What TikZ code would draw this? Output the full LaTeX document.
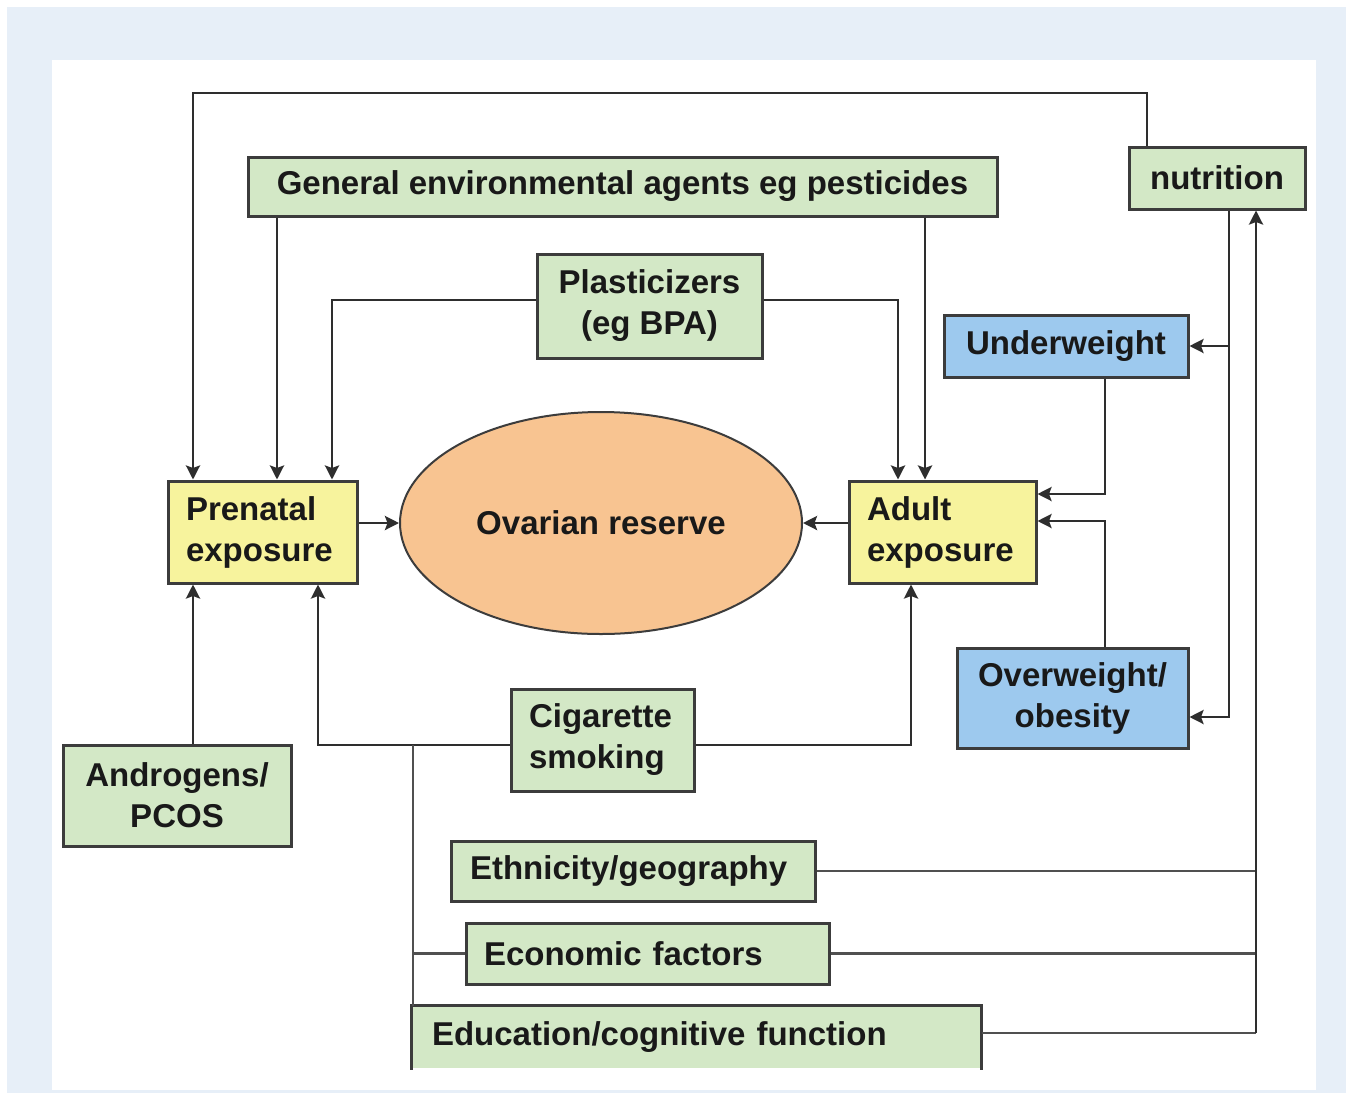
\documentclass[tikz,border=0pt]{standalone}
\usepackage{fontspec}
\setmainfont{Liberation Sans}
\usetikzlibrary{arrows.meta,shapes.geometric}
\definecolor{bgblue}{HTML}{E7EFF8}
\definecolor{boxgreen}{HTML}{D3E8C6}
\definecolor{boxyellow}{HTML}{F7F39D}
\definecolor{boxblue}{HTML}{9DC9EE}
\definecolor{ovaorange}{HTML}{F8C491}
\definecolor{edgegray}{HTML}{3C3C3C}
\definecolor{linegray}{HTML}{2E2E2E}
\definecolor{thingray}{HTML}{505050}
\tikzset{
  box/.style={draw=edgegray, line width=3pt, inner xsep=0pt, inner ysep=0pt,
    font=\fontsize{33}{41}\selectfont\bfseries, text=black!90, align=center},
  greenbox/.style={box, fill=boxgreen},
  yellowbox/.style={box, fill=boxyellow},
  bluebox/.style={box, fill=boxblue},
  conn/.style={draw=linegray, line width=2.7pt},
  thin/.style={draw=thingray, line width=2.3pt},
  arr/.style={conn, -{Stealth[length=14pt,width=14pt,inset=2.5pt]}},
}
\begin{document}
\begin{tikzpicture}[x=1pt,y=-1pt]
\useasboundingbox (0,0) rectangle (1346,1093);
\fill[white] (0,0) rectangle (1346,1093);
\fill[bgblue] (7,7) rectangle (1346,1093);
\fill[white] (52,60) rectangle (1316,1090);

% column / row helper coordinates
\coordinate (c193) at (193,0);
\coordinate (c277) at (277,0);
\coordinate (c318) at (318,0);
\coordinate (c332) at (332,0);
\coordinate (c413) at (413,0);
\coordinate (c898) at (898,0);
\coordinate (c911) at (911,0);
\coordinate (c925) at (925,0);
\coordinate (c1105) at (1105,0);
\coordinate (c1147) at (1147,0);
\coordinate (c1229) at (1229,0);
\coordinate (c1256) at (1256,0);
\coordinate (r93) at (0,93);
\coordinate (r300) at (0,300);
\coordinate (r494) at (0,494);
\coordinate (r521) at (0,521);
\coordinate (r717) at (0,717);
\coordinate (r745) at (0,745);
\coordinate (r1033) at (0,1033);

% nodes
\node[greenbox, minimum width=749pt, minimum height=59pt] (gen) at (622.5,186.5) {General environmental agents eg pesticides};
\node[greenbox, minimum width=176pt, minimum height=62pt] (nut) at (1217,178) {nutrition};
\node[greenbox, minimum width=225pt, minimum height=104pt] (pla) at (649.5,306) {Plasticizers\\(eg BPA)};
\node[bluebox, minimum width=244pt, minimum height=62pt] (und) at (1066,346) {Underweight};
\node[yellowbox, minimum width=189pt, minimum height=102pt, text width=153pt, inner xsep=18pt, align=left] (pre) at (262.5,532) {Prenatal\\exposure};
\node[ellipse, draw=edgegray, line width=2pt, fill=ovaorange, minimum width=402pt, minimum height=222pt, inner sep=0pt,
  font=\fontsize{33}{41}\selectfont\bfseries, text=black!90] (ova) at (601,523) {Ovarian reserve};
\node[yellowbox, minimum width=187pt, minimum height=102pt, text width=151pt, inner xsep=18pt, align=left] (adu) at (942.5,532) {Adult\\exposure};
\node[bluebox, minimum width=231pt, minimum height=100pt] (ove) at (1072.5,698) {Overweight/\\obesity};
\node[greenbox, minimum width=183pt, minimum height=102pt, text width=147pt, inner xsep=18pt, align=left] (cig) at (602.5,740) {Cigarette\\smoking};
\node[greenbox, minimum width=228pt, minimum height=101pt] (and) at (177,795.5) {Androgens/\\PCOS};
\node[greenbox, minimum width=364pt, minimum height=60pt, text width=326pt, inner xsep=19pt, align=left] (eth) at (633,871) {Ethnicity/geography};
\node[greenbox, minimum width=363pt, minimum height=61pt, text width=327pt, inner xsep=18pt, align=left] (eco) at (647.5,953.5) {Economic factors};
\node[greenbox, draw=none, minimum width=567pt, minimum height=61pt, text width=529pt, inner xsep=19pt, align=left] (edu) at (696.5,1037.5) {Education/cognitive function};
\draw[edgegray, line width=3pt] (edu.south west) -- (edu.north west) -- (edu.north east) -- (edu.south east);

% connectors
\draw[arr] (c1147 |- nut.north) -- (c1147 |- r93) -- (c193 |- r93) -- (c193 |- pre.north);
\draw[arr] (c277 |- gen.south) -- (c277 |- pre.north);
\draw[arr] (c925 |- gen.south) -- (c925 |- adu.north);
\draw[arr] (pla.west |- r300) -- (c332 |- r300) -- (c332 |- pre.north);
\draw[arr] (pla.east |- r300) -- (c898 |- r300) -- (c898 |- adu.north);
\draw[arr] (pre.east |- ova.west) -- (ova.west);
\draw[arr] (adu.west |- ova.east) -- (ova.east);
\draw[arr] (c1105 |- und.south) -- (c1105 |- r494) -- (adu.east |- r494);
\draw[arr] (c1105 |- ove.north) -- (c1105 |- r521) -- (adu.east |- r521);
\draw[arr] (c1229 |- nut.south) -- (c1229 |- r717) -- (ove.east |- r717);
\draw[arr] (c1229 |- und.east) -- (und.east);
\draw[arr] (cig.west |- r745) -- (c318 |- r745) -- (c318 |- pre.south);
\draw[arr] (cig.east |- r745) -- (c911 |- r745) -- (c911 |- adu.south);
\draw[arr] (c193 |- and.north) -- (c193 |- pre.south);
\draw[thin] (c413 |- r745) -- (c413 |- edu.north);
\draw[thin] (c413 |- eco.west) -- (eco.west);
\draw[thin] (eth.east) -- (c1256 |- eth.east);
\draw[thin] (eco.east) -- (c1256 |- eco.east);
\draw[thin] (edu.east |- r1033) -- (c1256 |- r1033);
\draw[arr] (c1256 |- r1033) -- (c1256 |- nut.south);
\end{tikzpicture}
\end{document}
